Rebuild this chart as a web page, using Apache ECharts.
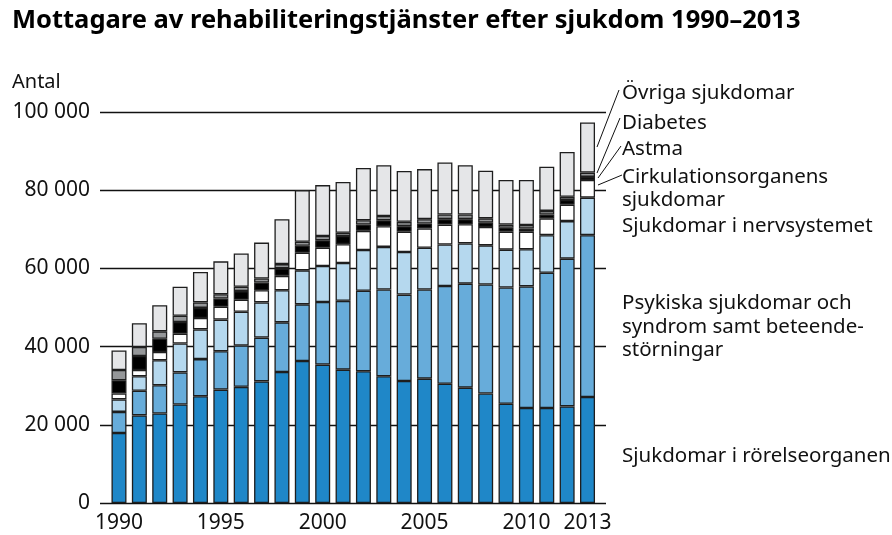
<!DOCTYPE html>
<html>
<head>
<meta charset="utf-8">
<script src="https://cdn.jsdelivr.net/npm/echarts@6/dist/echarts.min.js"></script>
<style>
  html, body { margin: 0; padding: 0; background: #fff; }
  #chart { width: 892px; height: 535px; }
</style>
</head>
<body>
<div id="chart"></div>
<script>
// years on the x axis
const years = ['1990', '1991', '1992', '1993', '1994', '1995', '1996', '1997', '1998', '1999', '2000', '2001',
               '2002', '2003', '2004', '2005', '2006', '2007', '2008', '2009', '2010', '2011', '2012', '2013'];
const yearLabels = ['1990', '1995', '2000', '2005', '2010', '2013'];
const yTicks = [0, 20000, 40000, 60000, 80000, 100000];

// antal per sjukdomsgrupp (nedifrån och upp)
const rorelse = [17900, 22400, 22900, 25200, 27300, 29000, 29700, 31100, 33500, 36300, 35400, 34100,
                 33700, 32400, 31200, 31800, 30500, 29500, 28000, 25400, 24300, 24300, 24700, 27100];
const psykiska = [5400, 6300, 7200, 8200, 9500, 9800, 10600, 11200, 12700, 14500, 16000, 17600,
                  20600, 22200, 22100, 22800, 25000, 26600, 27900, 29700, 31100, 34600, 37800, 41400];
const nerv = [3200, 3700, 6400, 7400, 7600, 8100, 8600, 9000, 8200, 8700, 9200, 9700,
              10400, 10900, 10900, 10700, 10600, 10300, 10000, 9700, 9500, 9600, 9600, 9600];
const cirk = [1500, 1600, 2100, 2500, 2900, 3300, 3100, 3100, 3700, 4500, 4700, 4800,
              4900, 5300, 5200, 4900, 5100, 4900, 4700, 4600, 4500, 4300, 4200, 4500];
const astma = [3400, 3600, 3400, 3000, 2600, 2100, 2200, 2000, 1900, 1800, 1900, 2100,
               1600, 1500, 1400, 1300, 1400, 1300, 1100, 1000, 800, 1000, 1200, 800];
const diabetes = [2600, 2300, 1900, 1600, 1400, 1100, 1100, 1000, 1100, 1000, 1100, 800,
                  1100, 1100, 1100, 1100, 1200, 1200, 1100, 800, 900, 900, 800, 1100];
const ovriga = [5000, 6100, 6700, 7400, 7800, 8400, 8500, 9200, 11500, 13200, 13000, 13000,
                13400, 13000, 13000, 12800, 13300, 12600, 12200, 11400, 11500, 11300, 11500, 12800];

const seriesNames = ['Sjukdomar i rörelseorganen', 'Psykiska sjukdomar', 'Sjukdomar i nervsystemet',
                     'Cirkulationsorganens sjukdomar', 'Astma', 'Diabetes', 'Övriga sjukdomar'];
const seriesData = [rorelse, psykiska, nerv, cirk, astma, diabetes, ovriga];
const colors = ['#1f87c8', '#67acda', '#b5d8ee', '#ffffff', '#000000', '#959799', '#e5e6e8'];

const FONT = '"Noto Sans", sans-serif';
const TXT = '#111';

let chart = echarts.init(document.getElementById('chart'));

let series = seriesNames.map(function (name, i) {
    return {
        name: name,
        type: 'bar',
        stack: 'total',
        barWidth: 15,
        xAxisIndex: 0,
        yAxisIndex: 0,
        itemStyle: {
            color: colors[i],
            borderColor: '#1e1e1e',
            borderWidth: 1.3
        },
        data: seriesData[i]
    };
});

// text on the right side
const rightText = [
    ['Övriga sjukdomar', 95],
    ['Diabetes', 125],
    ['Astma', 151],
    ['Cirkulationsorganens', 179],
    ['sjukdomar', 202],
    ['Sjukdomar i nervsystemet', 228],
    ['Psykiska sjukdomar och', 305],
    ['syndrom samt beteende-', 329],
    ['störningar', 352],
    ['Sjukdomar i rörelseorganen', 458]
];
let graphic = rightText.map(function (t) {
    return {
        type: 'text', left: 622, top: t[1] - 12,
        style: { text: t[0], font: '20.5px ' + FONT, fill: TXT }
    };
});
// leader lines
const leaders = [
    [[619, 90], [597, 147]],
    [[620, 118], [597, 173]],
    [[621, 146], [598, 178]],
    [[622, 175], [598, 185]]
];
leaders.forEach(function (l) {
    graphic.push({
        type: 'line',
        shape: { x1: l[0][0], y1: l[0][1], x2: l[1][0], y2: l[1][1] },
        style: { stroke: '#111', lineWidth: 1 }
    });
});
graphic.push({
    type: 'text', left: 12, top: 8,
    style: { text: 'Mottagare av rehabiliteringstjänster efter sjukdom 1990–2013',
             font: 'bold 25.5px ' + FONT, fill: '#000' }
});
graphic.push({
    type: 'text', left: 12, top: 72,
    style: { text: 'Antal', font: '20px ' + FONT, fill: TXT }
});

let option = {
    backgroundColor: '#fff',
    animation: false,
    grid: [
        { left: 108.8, right: 892 - 597.7, top: 112, bottom: 32 },
        { left: 100, right: 286, top: 112, bottom: 32 }
    ],
    xAxis: [
        {
            type: 'category',
            gridIndex: 0,
            data: years,
            axisLine: { show: false },
            axisTick: { show: false },
            axisLabel: {
                interval: 0,
                fontFamily: FONT, fontSize: 21, color: TXT, margin: 10,
                formatter: function (v) { return yearLabels.indexOf(v) >= 0 ? v : ''; }
            }
        },
        { type: 'value', gridIndex: 1, show: false, min: 0, max: 1 }
    ],
    yAxis: [
        { type: 'value', gridIndex: 0, min: 0, max: 100000, show: false },
        {
            type: 'value',
            gridIndex: 1,
            min: 0,
            max: 100000,
            interval: 20000,
            axisLine: { show: false },
            axisTick: { show: false },
            splitLine: { show: true, lineStyle: { color: '#111', width: 1.3 } },
            axisLabel: {
                fontFamily: FONT, fontSize: 21, color: TXT, margin: 10,
                formatter: function (v) { return String(v).replace(/\B(?=(\d{3})+(?!\d))/g, ' '); }
            }
        }
    ],
    series: series,
    graphic: graphic
};
chart.setOption(option);
</script>
</body>
</html>
